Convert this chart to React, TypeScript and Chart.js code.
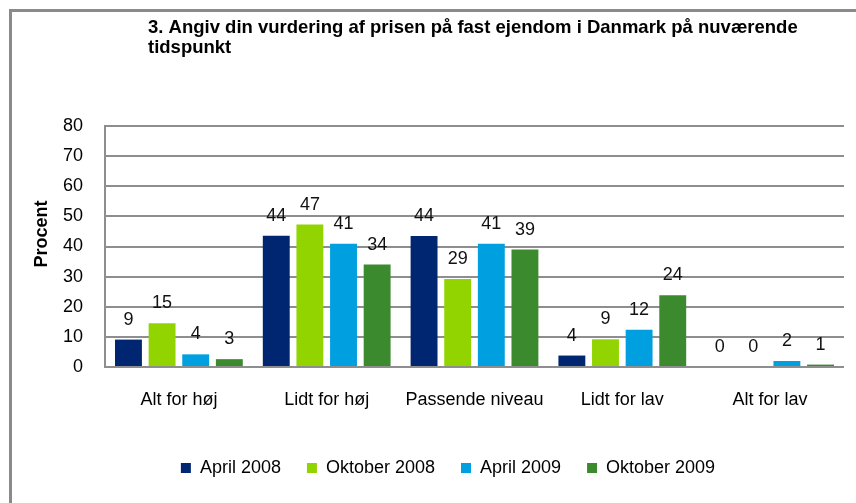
import React, { useEffect, useRef } from "react";
import { Chart, registerables } from "chart.js";

Chart.register(...registerables);

const titleLines = [
  "3. Angiv din vurdering af prisen på fast ejendom i Danmark på nuværende",
  "tidspunkt",
];
const yAxisTitle = "Procent";
const categories = ["Alt for høj", "Lidt for høj", "Passende niveau", "Lidt for lav", "Alt for lav"];
const seriesNames = ["April 2008", "Oktober 2008", "April 2009", "Oktober 2009"];
const april2008 = [9.1, 43.6, 43.5, 3.8, 0];
const oktober2008 = [14.5, 47.3, 29.2, 9.2, 0];
const april2009 = [4.2, 40.9, 40.9, 12.4, 2.0];
const oktober2009 = [2.6, 34.0, 39.0, 23.8, 0.8];
const seriesColors = ["#002672", "#92D400", "#00A0E0", "#3C8A2E"];
const yMin = 0;
const yMax = 80;
const yStep = 10;

const FONT = "'Liberation Sans', Arial, sans-serif";

const decorPlugin = {
  id: "decor",
  beforeDraw(chart: any) {
    const ctx = chart.ctx;
    ctx.save();
    ctx.fillStyle = "#8a8a8a";
    ctx.fillRect(9, 9, chart.width - 9, 3);
    ctx.fillRect(9, 9, 3, chart.height - 9);
    ctx.restore();
  },
  afterDraw(chart: any) {
    const ctx = chart.ctx;
    ctx.save();
    ctx.fillStyle = "#000";
    ctx.font = `bold 18.5px ${FONT}`;
    ctx.textAlign = "left";
    ctx.textBaseline = "alphabetic";
    ctx.fillText(titleLines[0], 148, 33);
    ctx.fillText(titleLines[1], 148, 53);
    ctx.font = `bold 18px ${FONT}`;
    ctx.translate(47, 234);
    ctx.rotate(-Math.PI / 2);
    ctx.textAlign = "center";
    ctx.fillText(yAxisTitle, 0, 0);
    ctx.restore();
  },
  afterDatasetsDraw(chart: any) {
    const ctx = chart.ctx;
    ctx.save();
    ctx.fillStyle = "#111";
    ctx.font = `18px ${FONT}`;
    ctx.textAlign = "center";
    ctx.textBaseline = "alphabetic";
    chart.data.datasets.forEach((ds: any, i: number) => {
      const meta = chart.getDatasetMeta(i);
      meta.data.forEach((bar: any, j: number) => {
        const v = ds.data[j];
        ctx.fillText(String(Math.round(v)), bar.x, bar.y - 15);
      });
    });
    ctx.restore();
  },
};

export default function App() {
  const ref = useRef<HTMLCanvasElement>(null);
  useEffect(() => {
    if (!ref.current) return;
    const allSeries = [april2008, oktober2008, april2009, oktober2009];
    const chart = new Chart(ref.current, {
      type: "bar",
      data: {
        labels: categories,
        datasets: allSeries.map((d, i) => ({
          label: seriesNames[i],
          data: d,
          backgroundColor: seriesColors[i],
          borderWidth: 0,
          barPercentage: 0.8,
          categoryPercentage: 0.91,
        })),
      },
      options: {
        animation: false,
        responsive: false,
        maintainAspectRatio: false,
        layout: { padding: { top: 126, right: 12, left: 52, bottom: 16 } },
        plugins: {
          title: { display: false },
          tooltip: { enabled: false },
          legend: {
            position: "bottom",
            labels: {
              boxWidth: 10,
              boxHeight: 10,
              padding: 26,
              color: "#000",
              font: { family: FONT, size: 18 },
            },
          },
        },
        scales: {
          x: {
            grid: { display: false, drawTicks: false },
            border: { display: false },
            ticks: { color: "#000", padding: 22, font: { family: FONT, size: 18 } },
            afterFit: (s: any) => {
              s.height = 66;
            },
          },
          y: {
            min: yMin,
            max: yMax,
            ticks: { stepSize: yStep, color: "#000", padding: 22, font: { family: FONT, size: 18 } },
            grid: { color: "#8e8e8e", lineWidth: 2, drawTicks: false },
            border: { display: true, color: "#8e8e8e", width: 2 },
            afterFit: (s: any) => {
              s.width = 53;
            },
          },
        },
      },
      plugins: [decorPlugin],
    });
    return () => chart.destroy();
  }, []);
  return (
    <div style={{ position: "fixed", left: 0, top: 0, width: 856, height: 503, background: "#fff" }}>
      <canvas ref={ref} width={856} height={503} style={{ width: 856, height: 503 }} />
    </div>
  );
}
